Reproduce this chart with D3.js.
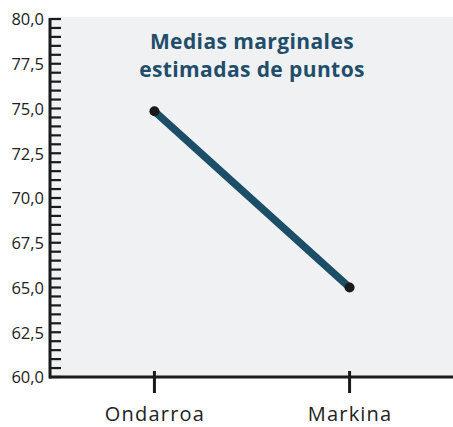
<!DOCTYPE html>
<html><head><meta charset="utf-8">
<script src="https://cdn.jsdelivr.net/npm/d3@7"></script>
<style>html,body{margin:0;padding:0;background:#fff;}svg{display:block;}</style>
</head><body>
<svg id="chart" width="453" height="427"></svg>
<script>
const categories = ["Ondarroa", "Markina"];
const values = [74.85, 65.0];
const yTicks = [60, 62.5, 65, 67.5, 70, 72.5, 75, 77.5, 80];
const titleLines = ["Medias marginales", "estimadas de puntos"];

const svg = d3.select("#chart");
const m = {left: 51, top: 19, right: 0, bottom: 50};
const W = 453, H = 427;
const plotBottom = 377;

const x = d3.scalePoint().domain(categories).range([m.left, 453]).padding(0.53);
const y = d3.scaleLinear().domain([60, 80]).range([plotBottom, m.top]);

svg.append("rect").attr("x", m.left).attr("y", m.top - 2).attr("width", W - m.left).attr("height", plotBottom - m.top + 2).attr("fill", "#f0f1f3");

// y axis minor ticks
const minor = d3.range(60, 80.001, 0.5);
const yAxis = svg.append("g");
yAxis.selectAll("line.t").data(minor).join("line")
  .attr("x1", m.left - 1).attr("x2", m.left + 10)
  .attr("y1", d => y(d)).attr("y2", d => y(d))
  .attr("stroke", "#1a1a1a").attr("stroke-width", 2.2);
yAxis.append("line").attr("x1", m.left - 1).attr("x2", m.left - 1)
  .attr("y1", y(80) - 1).attr("y2", plotBottom + 1.5)
  .attr("stroke", "#1a1a1a").attr("stroke-width", 3);
const fmt = d => d.toFixed(1).replace(".", ",");
yAxis.selectAll("text").data(yTicks).join("text")
  .attr("x", 44).attr("y", d => y(d)).attr("dy", "0.38em")
  .attr("text-anchor", "end").attr("font-family", "'Open Sans', sans-serif")
  .attr("font-size", 16.5).attr("fill", "#222").text(fmt);

// x axis
svg.append("line").attr("x1", m.left - 2).attr("x2", W).attr("y1", plotBottom).attr("y2", plotBottom)
  .attr("stroke", "#1a1a1a").attr("stroke-width", 3);
svg.selectAll("line.xt").data(categories).join("line").attr("class", "xt")
  .attr("x1", d => x(d)).attr("x2", d => x(d)).attr("y1", 371).attr("y2", 393)
  .attr("stroke", "#1a1a1a").attr("stroke-width", 3);
svg.selectAll("text.xl").data(categories).join("text").attr("class", "xl")
  .attr("x", d => x(d) + 0.5).attr("y", 421).attr("text-anchor", "middle")
  .attr("font-family", "'Open Sans', sans-serif").attr("font-size", 20)
  .attr("letter-spacing", 1.2).attr("fill", "#222").text(d => d);

// line
const pts = categories.map((c, i) => [x(c), y(values[i])]);
svg.append("path").attr("d", d3.line()(pts)).attr("fill", "none")
  .attr("stroke", "#1d4e68").attr("stroke-width", 7.5).attr("stroke-linecap", "round");
svg.selectAll("circle").data(pts).join("circle")
  .attr("cx", d => d[0]).attr("cy", d => d[1]).attr("r", 5).attr("fill", "#1a1a1a");

// title
svg.selectAll("text.title").data(titleLines).join("text").attr("class", "title")
  .attr("x", 252).attr("y", (d, i) => 48.5 + i * 28).attr("text-anchor", "middle")
  .attr("font-family", "'Open Sans', sans-serif").attr("font-weight", "bold").attr("font-size", 21)
  .attr("letter-spacing", 0.4)
  .attr("fill", "#1f4e6b").text(d => d);
</script>
</body></html>
